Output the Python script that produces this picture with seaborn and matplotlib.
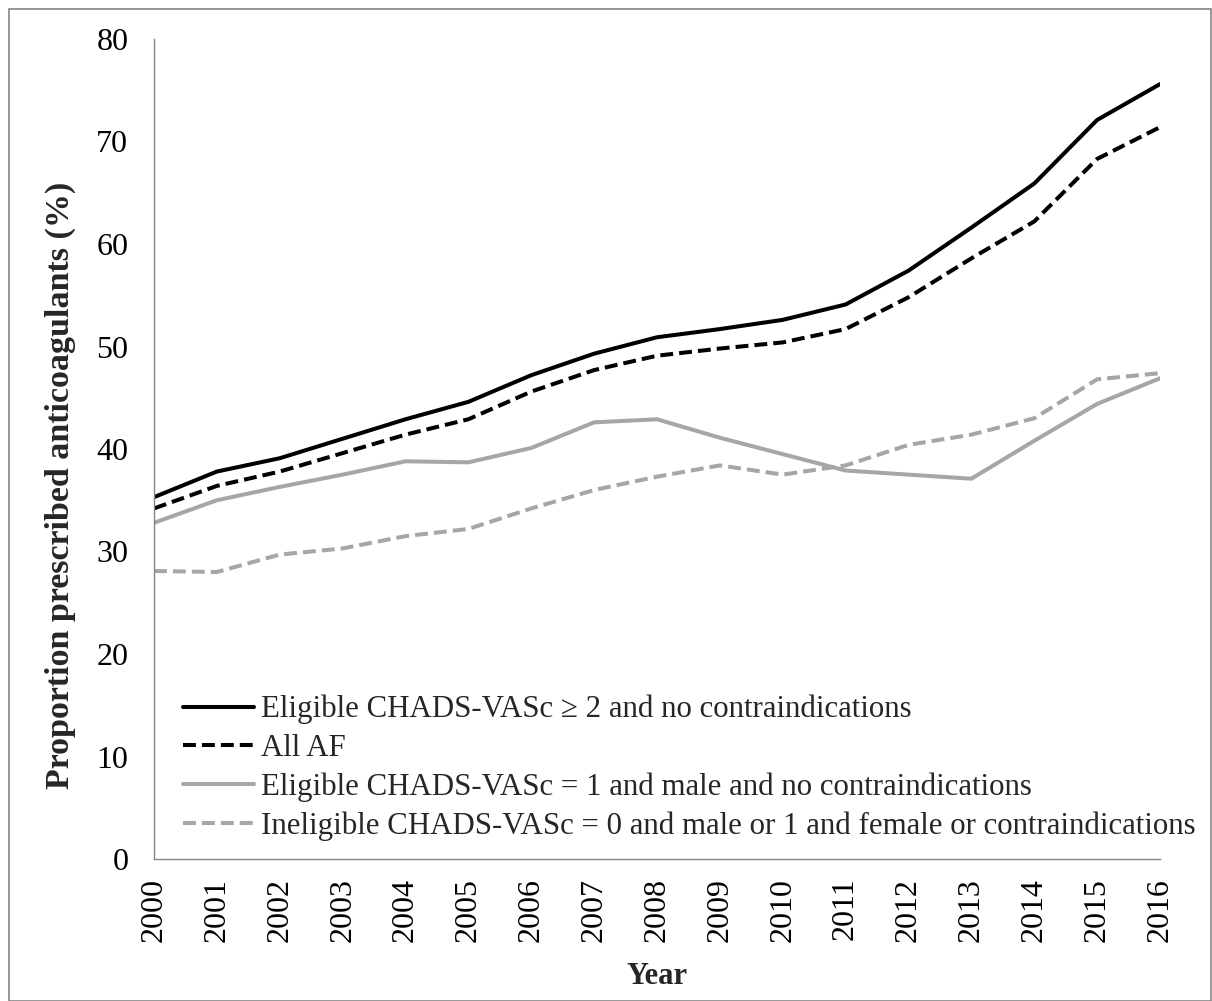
import numpy as np
import pandas as pd
import seaborn as sns
import matplotlib
matplotlib.use("Agg")
from matplotlib import pyplot as plt
from matplotlib.patches import Rectangle

sns.set_style("white")
plt.rcParams["font.family"] = ["Liberation Serif", "DejaVu Serif"]

# data
years = list(range(2000, 2017))
eligible_2 = [35.3, 37.8, 39.1, 41.0, 42.9, 44.6, 47.2, 49.3, 50.9, 51.7, 52.6, 54.1, 57.4, 61.6, 65.9, 72.1, 75.6]
all_af = [34.2, 36.4, 37.8, 39.6, 41.4, 42.9, 45.6, 47.7, 49.1, 49.8, 50.4, 51.7, 54.8, 58.6, 62.2, 68.3, 71.4]
eligible_1 = [32.8, 35.0, 36.3, 37.5, 38.8, 38.7, 40.1, 42.6, 42.9, 41.1, 39.5, 37.9, 37.5, 37.1, 40.8, 44.4, 46.9]
ineligible = [28.1, 28.0, 29.7, 30.3, 31.5, 32.2, 34.2, 36.0, 37.3, 38.4, 37.5, 38.4, 40.4, 41.4, 43.0, 46.8, 47.4]

labels = [
    "Eligible CHADS-VASc \u2265 2 and no contraindications",
    "All AF",
    "Eligible CHADS-VASc = 1 and male and no contraindications",
    "Ineligible CHADS-VASc = 0 and male or 1 and female or contraindications",
]
series = [eligible_2, all_af, eligible_1, ineligible]
colors = ["#000000", "#000000", "#a6a6a6", "#a6a6a6"]
dash = (0, (3.2, 1.5))
styles = ["-", dash, "-", dash]

fig = plt.figure(figsize=(12.12, 10.01), dpi=100)
ax = fig.add_axes([154 / 1212, 1 - 859 / 1001, (1160 - 154) / 1212, (859 - 39) / 1001])

for lab, vals, col, ls in zip(labels, series, colors, styles):
    df = pd.DataFrame({"Year": years, "value": vals})
    sns.lineplot(data=df, x="Year", y="value", ax=ax, color=col, linestyle=ls,
                 linewidth=2.9, label=lab)

ax.set_xlim(2000, 2016)
ax.set_ylim(0, 80)
ax.set_xticks(years)
ax.set_xticklabels([str(y) for y in years], rotation=90)
ax.set_yticks(range(0, 81, 10))
ax.tick_params(axis="both", labelsize=23, colors="#000000", length=6.5, width=1.0,
               direction="out")
ax.tick_params(axis="x", color="#868686", pad=7)
ax.tick_params(axis="y", color="#868686", pad=12)
for s in ["top", "right"]:
    ax.spines[s].set_visible(False)
for s in ["left", "bottom"]:
    ax.spines[s].set_color("#868686")
    ax.spines[s].set_linewidth(1.0)

ax.set_xlabel("Year", fontsize=22, fontweight="bold")
ax.xaxis.set_label_coords(0.5, -(977 - 859) / 820)
ax.xaxis.label.set_va("center")
ax.set_ylabel("Proportion prescribed anticoagulants (%)", fontsize=24.5, fontweight="bold")
ax.yaxis.set_label_coords((76 - 154) / 1006, (859 - 485) / 820)

leg = ax.legend(loc="center left", bbox_to_anchor=(183 / 1212, 1 - 768 / 1001),
                bbox_transform=fig.transFigure, frameon=False, fontsize=22.2,
                handlelength=2.3, handletextpad=0.24, labelspacing=0.31,
                borderpad=0, borderaxespad=0)

# outer chart border
fig.patches.append(Rectangle((9 / 1212, 0.5 / 1001), (1211 - 9) / 1212, (1001 - 9.5) / 1001,
                             transform=fig.transFigure, fill=False, edgecolor="#868686",
                             linewidth=1.2))

plt.savefig("out.png", dpi=100)
